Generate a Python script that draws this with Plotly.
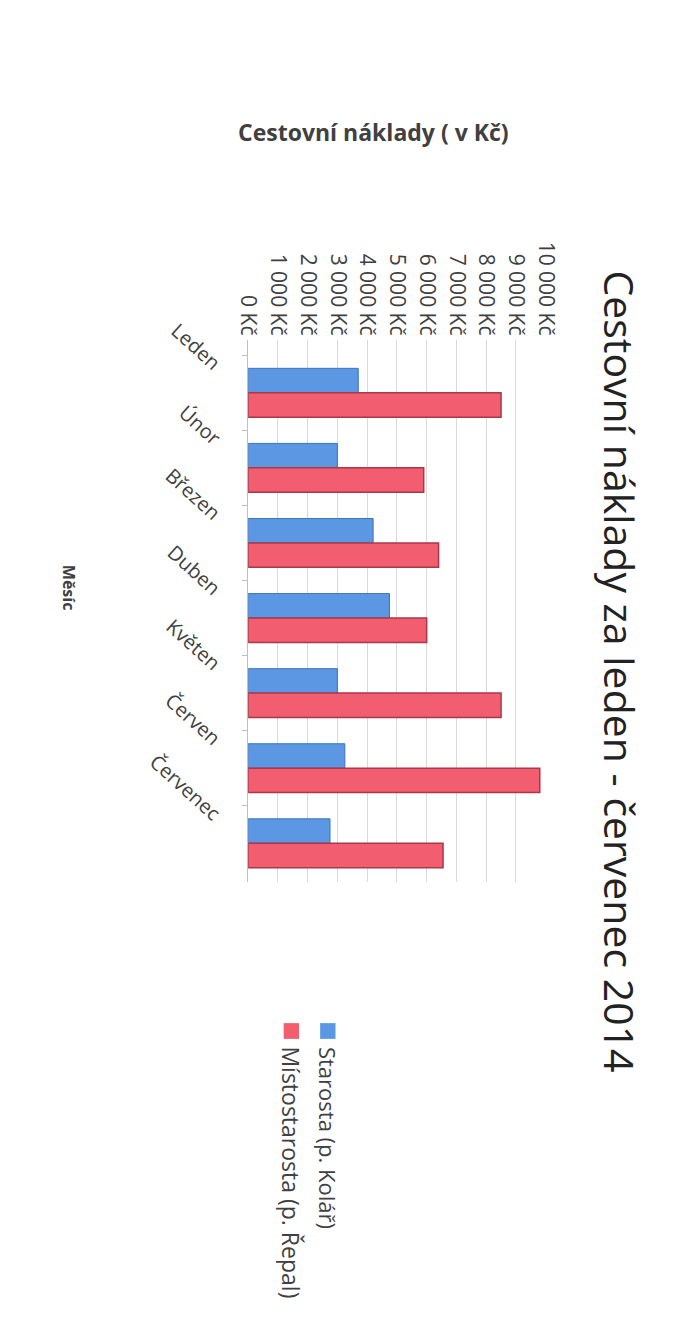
import plotly.graph_objects as go

months = ["Leden", "Únor", "Březen", "Duben", "Květen", "Červen", "Červenec"]
starosta = [3700, 3000, 4200, 4750, 3000, 3250, 2750]
mistostarosta = [8500, 5900, 6400, 6000, 8500, 9800, 6550]
series_names = ["Starosta (p. Kolář)", "Místostarosta (p. Řepal)"]
tick_values = [0, 1000, 2000, 3000, 4000, 5000, 6000, 7000, 8000, 9000, 10000]
tick_labels = ["0 Kč", "1 000 Kč", "2 000 Kč", "3 000 Kč", "4 000 Kč", "5 000 Kč",
               "6 000 Kč", "7 000 Kč", "8 000 Kč", "9 000 Kč", "10 000 Kč"]
title_text = "Cestovní náklady za leden - červenec 2014"
value_axis_title = "Cestovní náklady ( v Kč)"
category_axis_title = "Měsíc"

W, H = 697, 1328
FONT = "Open Sans"
BLUE = "#5B97E2"
RED = "#F25D6F"
TXT = "#404040"

def px(x):
    return x / W

def py(y):
    return 1 - y / H

fig = go.Figure()
fig.add_trace(go.Bar(y=months, x=starosta, orientation="h", name=series_names[0],
                     marker=dict(color=BLUE, line=dict(color="#3F73B8", width=1))))
fig.add_trace(go.Bar(y=months, x=mistostarosta, orientation="h", name=series_names[1],
                     marker=dict(color=RED, line=dict(color="#A8394B", width=1.5))))

fig.update_layout(
    width=W, height=H,
    margin=dict(l=0, r=0, t=0, b=0),
    paper_bgcolor="white", plot_bgcolor="white",
    barmode="group", bargap=0.35, bargroupgap=0.0,
    showlegend=False,
    font=dict(family=FONT, color=TXT),
    xaxis=dict(
        domain=[px(245), px(555)], range=[0, 10000], side="top",
        tickvals=tick_values, ticktext=tick_labels, tickangle=90,
        tickfont=dict(size=21, color=TXT, family=FONT),
        showgrid=True, gridcolor="#D9D9D9", gridwidth=1,
        zeroline=False, showline=False, ticks="",
        anchor="y",
    ),
    yaxis=dict(
        domain=[py(874), py(323)], range=[6.51, -0.707], type="category",
        tickangle=42, tickfont=dict(size=20, color=TXT, family=FONT),
        showline=True, linecolor="#BFBFBF", linewidth=1,
        ticks="outside", ticklen=5, tickcolor="#BFBFBF", tickson="boundaries",
        ticklabelshift=26, ticklabelstandoff=24,
        showgrid=False, zeroline=False,
    ),
)

annotations = [
    dict(text=title_text, x=px(632), y=py(660), textangle=90,
         font=dict(size=41, color="#222222", family=FONT)),
    dict(text="<b>" + value_axis_title + "</b>", x=px(376), y=py(112), textangle=0,
         font=dict(size=23, color=TXT, family=FONT)),
    dict(text="<b>" + category_axis_title + "</b>", x=px(58), y=py(575), textangle=90,
         font=dict(size=16, color=TXT, family=FONT)),
    dict(text=series_names[0], x=px(328), y=py(1040), yanchor="top", textangle=90,
         font=dict(size=22, color=TXT, family=FONT)),
    dict(text=series_names[1], x=px(290), y=py(1040), yanchor="top", textangle=90,
         font=dict(size=23, color=TXT, family=FONT)),
]
for a in annotations:
    a.update(xref="paper", yref="paper", showarrow=False)
    a.setdefault("xanchor", "center")
    a.setdefault("yanchor", "middle")
fig.update_layout(annotations=annotations)

shapes = [
    dict(type="rect", x0=px(320), x1=px(336), y0=py(1018), y1=py(1034),
         fillcolor=BLUE, line=dict(width=0)),
    dict(type="rect", x0=px(282), x1=px(298), y0=py(1018), y1=py(1034),
         fillcolor=RED, line=dict(width=0)),
]
for s in shapes:
    s.update(xref="paper", yref="paper")
fig.update_layout(shapes=shapes)

fig.write_html("out.html", config={"displayModeBar": False},
               post_script="document.body.style.margin='0';document.body.style.overflow='hidden';")
